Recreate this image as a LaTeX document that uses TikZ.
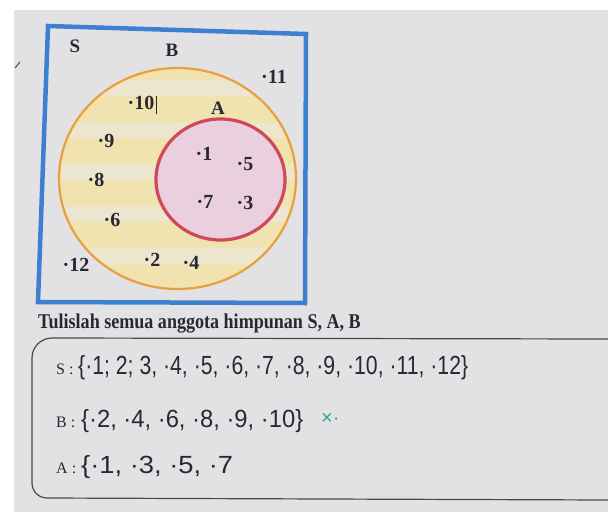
\documentclass[tikz,border=0pt]{standalone}
\usepackage{fontspec}
\setmainfont{Liberation Serif}
\newfontfamily\handfont{Liberation Sans}
\definecolor{paper}{RGB}{226,226,229}
\definecolor{boxblue}{RGB}{62,128,208}
\definecolor{borange}{RGB}{232,160,62}
\definecolor{byellow}{RGB}{241,227,176}
\definecolor{bstripe}{RGB}{236,230,206}
\definecolor{ared}{RGB}{208,72,92}
\definecolor{apink}{RGB}{234,208,222}
\definecolor{ink}{RGB}{40,40,48}
\definecolor{pengreen}{RGB}{40,170,140}
\begin{document}
\begin{tikzpicture}[x=1pt,y=-1pt,
  num/.style={font=\bfseries\fontsize{20}{20}\selectfont,inner sep=0pt,text=ink},
  setname/.style={font=\bfseries\fontsize{19}{19}\selectfont,inner sep=0pt,text=ink},
  setlead/.style={font=\fontsize{16}{16}\selectfont,anchor=base west,inner sep=0pt,text=ink},
  hand/.style={font=\handfont\fontsize{20}{20}\selectfont,anchor=base west,inner sep=0pt,text=ink}]
\useasboundingbox (0,0) rectangle (608,512);
\fill[white] (0,0) rectangle (608,512);
\fill[paper] (14,10) rectangle (608,512);
\draw[pengreen!60!black,line width=1pt] (15,68) -- (20,62);
% universe S
\draw[boxblue,line width=4.5pt,line join=miter] (48,26) -- (306,34) -- (305,303) -- (38,302) -- cycle;
% set B with pale stripes
\fill[byellow] (177.5,178.5) ellipse [x radius=118.5pt,y radius=110.5pt];
\begin{scope}
  \clip (177.5,178.5) ellipse [x radius=118.5pt,y radius=110.5pt];
  \foreach \y in {80,122,164,206,248}
    \fill[bstripe] (50,\y) rectangle (300,\y+16);
\end{scope}
\draw[borange,line width=2.2pt] (177.5,178.5) ellipse [x radius=118.5pt,y radius=110.5pt];
% set A
\draw[ared,fill=apink,line width=3.2pt] (220.5,179.5) ellipse [x radius=64.5pt,y radius=60.5pt];
\node[setname] (labS) at (75,46) {S};
\node[setname] (labB) at (172,50) {B};
\node[setname] (labA) at (218,108) {A};
\foreach \n/\x/\y in {11/274/77,10/141/103,9/106/141,8/96/180,6/112/220,12/76/265,
                      2/152/260,4/191/263,1/204/154,5/245/164,7/205/202,3/245/203}
  \node[num] (e\n) at (\x,\y) {·\n};
\draw[ink,line width=0.8pt] (156,96) -- (156,114);
% question and answers
\node[anchor=base west,inner sep=0pt,text=ink] (task) at (38,328)
  {\scalebox{0.86}[1]{\bfseries\fontsize{21}{21}\selectfont Tulislah semua anggota himpunan S, A, B}};
\draw[ink!85,line width=1.2pt] (608,339) -- (52,338) to[out=180,in=90] (32,358)
  -- (32,483) to[out=-90,in=180] (47,498) -- (608,500);
\node[setlead] (pS) at (56,374) {S :};
\node[hand] (hS) at (78,374) {\resizebox{390pt}{19pt}{\{·1; 2; 3, ·4, ·5, ·6, ·7, ·8, ·9, ·10, ·11, ·12\}}};
\node[setlead] (pB) at (56,427) {B :};
\node[hand] (hB) at (81,427) {\resizebox{222pt}{18pt}{\{·2, ·4, ·6, ·8, ·9, ·10\}}};
\node[text=pengreen,font=\handfont\fontsize{20}{20}\selectfont,anchor=base west,inner sep=0pt] (tick) at (321,424) {×·};
\node[setlead] (pA) at (56,473) {A :};
\node[hand] (hA) at (81,473) {\resizebox{152pt}{18pt}{\{·1, ·3, ·5, ·7}};
\end{tikzpicture}
\end{document}
